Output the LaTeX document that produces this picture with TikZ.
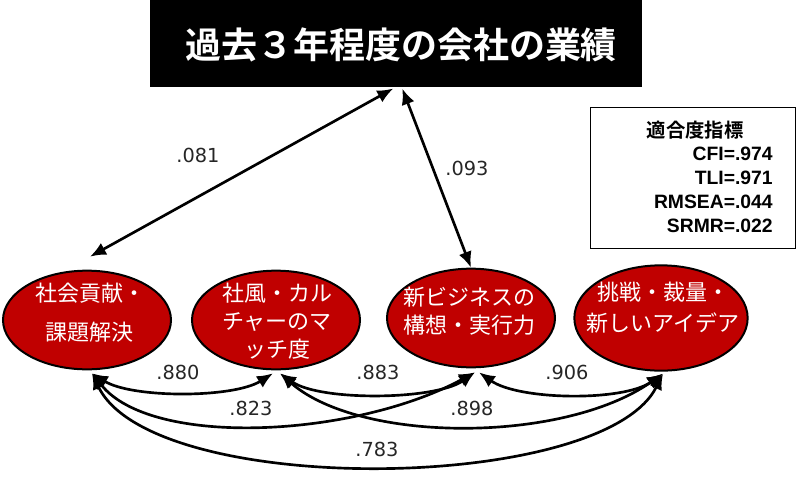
\documentclass[tikz,border=0pt]{standalone}
\usepackage{fontspec}
\newfontfamily\jp{Noto Sans CJK JP}[BoldFont={Noto Sans CJK JP Bold}]
\newfontfamily\labfont{DejaVu Sans}
\newfontfamily\fitfont{Liberation Sans}
\usepackage{tikz}
\usetikzlibrary{shapes.geometric}
\usetikzlibrary{arrows.meta}
\definecolor{factred}{HTML}{C00000}

\begin{document}
\begin{tikzpicture}[x=0.75pt,y=-0.75pt,
    factor/.style={ellipse, draw=black, line width=1.5pt, fill=factred, inner sep=0pt,
        minimum width=126pt, minimum height=74pt},
    factortext/.style={text=white, align=center, inner sep=0pt, font=\jp\fontsize{16.5}{21}\selectfont},
    cov/.style={{Latex[length=12pt,width=10pt]}-{Latex[length=12pt,width=10pt]}, line width=2pt},
    coef/.style={font=\labfont\fontsize{14.5}{16}\selectfont, text=black!85}]
    \useasboundingbox (0,0) rectangle (800,479);
    % outcome box
    \node[fill=black, inner sep=0pt, minimum width=369pt, minimum height=65.25pt, anchor=north west] (perfbox) at (150,0) {};
    \node[text=white, font=\jp\bfseries\fontsize{27}{30}\selectfont] (perf) at (401,45) {過去３年程度の会社の業績};
    % factors
    \node[factor] (e1) at (87,320) {};
    \node[factor] (e2) at (276,320) {};
    \node[factor] (e3) at (471,318) {};
    \node[factor, minimum width=130pt, minimum height=79pt] (e4) at (661,318) {};
    \node[factortext] (e1txt) at (90,313) {社会貢献・\\[8pt]課題解決};
    \node[factortext] (e2txt) at (277,321) {社風・カル\\チャーのマ\\ッチ度};
    \node[factortext] (e3txt) at (469,311) {新ビジネスの\\構想・実行力};
    \node[factortext] (e4txt) at (663,308) {挑戦・裁量・\\[2pt]新しいアイデア};
    % fit indices
    \node[draw, line width=0.8pt, inner sep=0pt, minimum width=153.75pt, minimum height=105.75pt, anchor=north west] (fitbox) at (590,107) {};
    \node[font=\jp\bfseries\fontsize{14.5}{18}\selectfont] (fithead) at (695,130) {適合度指標};
    \node[font=\fitfont\bfseries\fontsize{14.5}{18}\selectfont, align=right, anchor=east, inner sep=0pt] (fitval) at (773,190) {CFI=.974\\TLI=.971\\RMSEA=.044\\SRMR=.022};
    % end points
    \coordinate (pl) at ([shift={(-3,1)}]perfbox.south);
    \coordinate (pr) at ([shift={(6,1)}]perfbox.south);
    \coordinate (e1t) at ([shift={(3,-13)}]e1.north);
    \coordinate (e1b) at ([shift={(5,3)}]e1.south);
    \coordinate (e2l) at ([shift={(-3,3)}]e2.south);
    \coordinate (e2r) at ([shift={(4,3)}]e2.south);
    \coordinate (e3l) at ([shift={(4,4)}]e3.south);
    \coordinate (e3r) at ([shift={(8,4)}]e3.south);
    \coordinate (e4b) at ([shift={(2,2)}]e4.south);
    % covariances
    \draw[cov] (pl) -- (e1t);
    \draw[cov] (pr) -- (e3.north);
    \draw[cov] (e1b) .. controls +(40,25) and +(-40,25) .. (e2l);
    \draw[cov] (e2r) .. controls +(40,28) and +(-40,28) .. (e3l);
    \draw[cov] (e3r) .. controls +(40,28) and +(-40,28) .. (e4b);
    \draw[cov] (e1b) .. controls +(60,75) and +(-120,65) .. (e3l);
    \draw[cov] (e2r) .. controls +(80,70) and +(-100,70) .. (e4b);
    \draw[cov] (e1b) .. controls +(60,125) and +(-60,120) .. (e4b);
    % coefficients
    \node[coef] (c081) at (198,155) {.081};
    \node[coef] (c093) at (467,168) {.093};
    \node[coef] (c880) at (178,372) {.880};
    \node[coef] (c883) at (378,372) {.883};
    \node[coef] (c906) at (567,372) {.906};
    \node[coef] (c823) at (251,408) {.823};
    \node[coef] (c898) at (472,408) {.898};
    \node[coef] (c783) at (377,449) {.783};
\end{tikzpicture}
\end{document}
